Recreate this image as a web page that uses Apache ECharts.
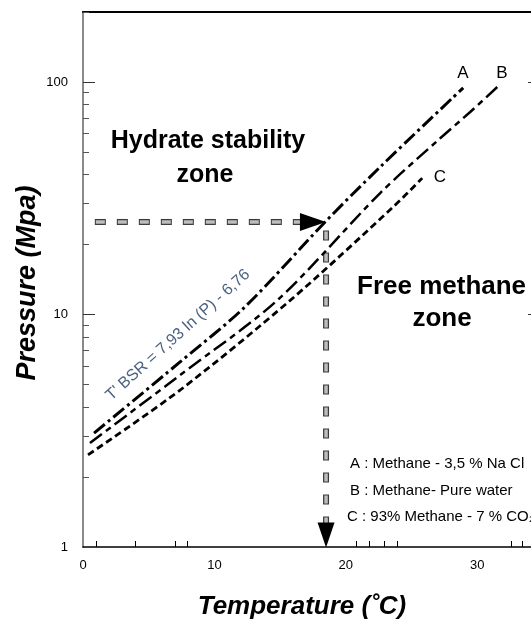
<!DOCTYPE html>
<html><head><meta charset="utf-8">
<script src="https://cdn.jsdelivr.net/npm/echarts@6/dist/echarts.min.js"></script>
<style>html,body{margin:0;padding:0;background:#fff}#c{width:531px;height:624px}</style>
</head><body><div id="c"></div>
<script>
// ---- data ----
const curveA_T = [0.84, 7.39, 12.34, 18.43, 22.62, 28.94];
const curveA_P = [3.09, 6.25, 10.8, 25.0, 43.1, 94.4];
const curveB_T = [0.53, 7.39, 14.78, 22.62, 27.04, 29.47, 31.69];
const curveB_P = [2.80, 5.49, 11.5, 33.3, 56.3, 74.3, 97];
const curveC_T = [0.38, 7.39, 15.77, 23.61, 25.82];
const curveC_P = [2.49, 4.73, 11.5, 29.0, 38.6];
const hArrowT = [0.9, 16.6];   const hArrowP = [25, 25];
const vArrowT = [18.5, 18.5];  const vArrowP = [23, 1.25];
const arrowHeadT = [17.5, 18.5]; const arrowHeadP = [25, 1.125];
const xTickLabels = [0, 10, 20, 30];
const xMinorTicks = [1, 4, 7, 7.9, 20.8, 21.8, 22.9, 23.9, 32.6, 33.4];
const yTickLabels = [1, 10, 100];
const yMinorTicks = [2,3,4,5,6,7,8,9,20,30,40,50,60,70,80,90,200];
const seriesNames = ['A', 'B', 'C'];

const zip = (a, b) => a.map((v, i) => [v, b[i]]);
const FONT = "'Liberation Sans', Arial, sans-serif";

const chart = echarts.init(document.getElementById('c'), null, {renderer: 'canvas'});
const shaft = (T, P, w, col, dash, off) => ({
  type: 'line', data: zip(T, P), symbol: 'none', silent: true, z: 3,
  lineStyle: {color: col, width: w, type: dash, dashOffset: off || 0, cap: 'butt'}
});
chart.setOption({
  animation: false,
  backgroundColor: '#fff',
  grid: {left: 83, top: 12, right: 0, bottom: 77, containLabel: false},
  xAxis: [{
    type: 'value', min: 0, max: 34.1,
    axisLine: {show: true, lineStyle: {color: '#000', width: 1.5}},
    axisTick: {show: true, inside: true, length: 6, customValues: xMinorTicks, lineStyle: {color: '#000', width: 1}},
    axisLabel: {customValues: xTickLabels, margin: 12, fontFamily: FONT, fontSize: 13, color: '#000'},
    splitLine: {show: false}
  }, {
    type: 'value', min: 0, max: 34.1, position: 'top',
    axisLine: {show: true, lineStyle: {color: '#000', width: 2}},
    axisTick: {show: false}, axisLabel: {show: false}, splitLine: {show: false}
  }],
  yAxis: [{
    type: 'log', logBase: 10, min: 1, max: 200,
    axisLine: {show: true, lineStyle: {color: '#8a8a8a', width: 2}},
    axisTick: {show: true, inside: true, length: 6, customValues: yMinorTicks, lineStyle: {color: '#555', width: 1}},
    axisLabel: {customValues: yTickLabels, margin: 15, fontFamily: FONT, fontSize: 13, color: '#000'},
    splitLine: {show: false}
  }, {
    type: 'log', logBase: 10, min: 1, max: 200, position: 'left',
    axisLine: {show: false},
    axisTick: {show: true, inside: true, length: 12, customValues: [10, 100], lineStyle: {color: '#333', width: 1}},
    axisLabel: {show: false}, splitLine: {show: false}
  }, {
    type: 'log', logBase: 10, min: 1, max: 200, position: 'right',
    axisLine: {show: false},
    axisTick: {show: true, inside: true, length: 3, customValues: [10, 100], lineStyle: {color: '#333', width: 1}},
    axisLabel: {show: false}, splitLine: {show: false}
  }],
  series: [
    {name: seriesNames[0], type: 'line', data: zip(curveA_T, curveA_P), smooth: 0.3, symbol: 'none', z: 4,
     lineStyle: {color: '#000', width: 3, type: [14, 4, 3, 4], cap: 'butt'}},
    {name: seriesNames[1], type: 'line', data: zip(curveB_T, curveB_P), smooth: 0.3, symbol: 'none', z: 4,
     lineStyle: {color: '#000', width: 2.5, type: [15, 5, 6, 5], cap: 'butt'}},
    {name: seriesNames[2], type: 'line', data: zip(curveC_T, curveC_P), smooth: 0.3, symbol: 'none', z: 4,
     lineStyle: {color: '#000', width: 2.8, type: [7, 4], cap: 'butt'}},
    shaft(hArrowT, hArrowP, 6, '#3a3a3a', [11, 11], 0),
    shaft(hArrowT, hArrowP, 3.5, '#bdbdbd', [9, 13], -1),
    shaft(vArrowT, vArrowP, 6, '#3a3a3a', [10, 12], 0),
    shaft(vArrowT, vArrowP, 3.5, '#bdbdbd', [8, 14], -1),
    {type: 'scatter', silent: true, z: 5,
     data: [
       {value: [arrowHeadT[0], arrowHeadP[0]], symbolRotate: -90, symbolSize: [18, 26]},
       {value: [arrowHeadT[1], arrowHeadP[1]], symbolRotate: 180, symbolSize: [17, 25]}
     ],
     symbol: 'triangle', itemStyle: {color: '#000', opacity: 1}}
  ],
  graphic: [
    {type: 'text', x: 208, y: 141, style: {text: 'Hydrate stability', font: "bold 25px " + FONT, fill: '#000', align: 'center', verticalAlign: 'middle'}},
    {type: 'text', x: 205, y: 175, style: {text: 'zone', font: "bold 25px " + FONT, fill: '#000', align: 'center', verticalAlign: 'middle'}},
    {type: 'text', x: 357, y: 287, style: {text: 'Free methane', font: "bold 26px " + FONT, fill: '#000', align: 'left', verticalAlign: 'middle'}},
    {type: 'text', x: 442, y: 319, style: {text: 'zone', font: "bold 26px " + FONT, fill: '#000', align: 'center', verticalAlign: 'middle'}},
    {type: 'text', x: 463, y: 73, style: {text: 'A', font: "17px " + FONT, fill: '#000', align: 'center', verticalAlign: 'middle'}},
    {type: 'text', x: 502, y: 73, style: {text: 'B', font: "17px " + FONT, fill: '#000', align: 'center', verticalAlign: 'middle'}},
    {type: 'text', x: 440, y: 177, style: {text: 'C', font: "17px " + FONT, fill: '#000', align: 'center', verticalAlign: 'middle'}},
    {type: 'text', x: 350, y: 464, style: {text: 'A : Methane - 3,5 % Na Cl', font: "15px " + FONT, fill: '#000', verticalAlign: 'middle'}},
    {type: 'text', x: 350, y: 491, style: {text: 'B : Methane- Pure water', font: "15px " + FONT, fill: '#000', verticalAlign: 'middle'}},
    {type: 'text', x: 347, y: 517, style: {text: 'C : 93% Methane - 7 % CO₂', font: "15px " + FONT, fill: '#000', verticalAlign: 'middle'}},
    {type: 'text', x: 178, y: 335, rotation: 42 * Math.PI / 180, style: {text: "T' BSR = 7,93 ln (P) - 6,76", font: "16px " + FONT, fill: '#4d6282', align: 'center', verticalAlign: 'middle'}},
    {type: 'text', x: 302, y: 607, style: {text: 'Temperature (˚C)', font: "italic bold 26px " + FONT, fill: '#000', align: 'center', verticalAlign: 'middle'}},
    {type: 'text', x: 28, y: 283, rotation: Math.PI / 2, style: {text: 'Pressure (Mpa)', font: "italic bold 27px " + FONT, fill: '#000', align: 'center', verticalAlign: 'middle'}}
  ]
});
</script></body></html>
